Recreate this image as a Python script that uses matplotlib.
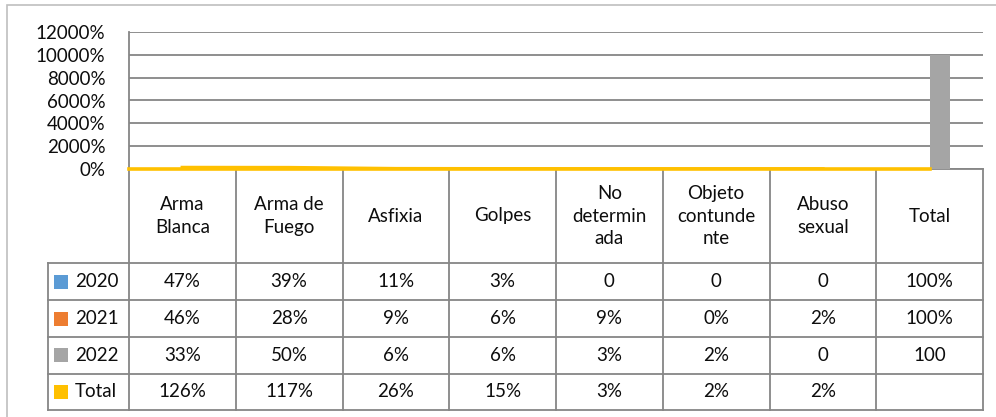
import matplotlib
matplotlib.use("Agg")
import matplotlib.pyplot as plt
from matplotlib.patches import Rectangle
from matplotlib.ticker import FuncFormatter, MultipleLocator
import numpy as np

plt.rcParams['font.family'] = ['Lato', 'DejaVu Sans']

# ---------------- data ----------------
categories = ["Arma\nBlanca", "Arma de\nFuego", "Asfixia", "Golpes",
              "No\ndetermin\nada", "Objeto\ncontunde\nnte", "Abuso\nsexual", "Total"]
series_names = ["2020", "2021", "2022", "Total"]
v2020 = [0.47, 0.39, 0.11, 0.03, 0.0, 0.0, 0.0, 1.00]
v2021 = [0.46, 0.28, 0.09, 0.06, 0.09, 0.0, 0.02, 1.00]
v2022 = [0.33, 0.50, 0.06, 0.06, 0.03, 0.02, 0.0, 100.0]
vtotal = [1.26, 1.17, 0.26, 0.15, 0.03, 0.02, 0.02, np.nan]
labels2020 = ["47%", "39%", "11%", "3%", "0", "0", "0", "100%"]
labels2021 = ["46%", "28%", "9%", "6%", "9%", "0%", "2%", "100%"]
labels2022 = ["33%", "50%", "6%", "6%", "3%", "2%", "0", "100"]
labelsTotal = ["126%", "117%", "26%", "15%", "3%", "2%", "2%", ""]
yticks = [0, 20, 40, 60, 80, 100, 120]

colors = ["#5B9BD5", "#ED7D31", "#A5A5A5", "#FFC000"]
grid_c = "#868686"
text_c = "#0d0d0d"
FS = 13.5

W, H = 996, 417
fig = plt.figure(figsize=(W / 100, H / 100), dpi=100)

def fx(px):
    return px / W

def fy(py):
    return 1 - py / H

# outer chart border
fig.add_artist(Rectangle((fx(7), -0.2), 1.2, fy(5) + 0.2, transform=fig.transFigure,
                         fill=False, edgecolor="#BFBFBF", lw=1.2, zorder=0))

plot_l, plot_r, plot_t, plot_b = 129, 983, 32, 169
tab_l, tab_b = 48, 410
cat_w = (plot_r - plot_l) / len(categories)
x = np.arange(len(categories))

# ---------------- table axes ----------------
tax = fig.add_axes([fx(tab_l), fy(tab_b), fx(plot_r) - fx(tab_l), fy(plot_b) - fy(tab_b)])
xl_left = -0.5 - (plot_l - tab_l) / cat_w
tax.set_xlim(xl_left, len(categories) - 0.5)
tax.set_ylim(tab_b, plot_b)
tax.axis("off")

row_edges = [169, 263, 300, 337, 373.5, 410]
lw_t = 1.3
for y in row_edges[1:]:
    tax.plot([xl_left, len(categories) - 0.5], [y, y], color=grid_c, lw=lw_t, clip_on=False,
             solid_capstyle="projecting")
tax.plot([-0.5, len(categories) - 0.5], [169, 169], color=grid_c, lw=lw_t, clip_on=False)
for k in range(len(categories) + 1):
    tax.plot([k - 0.5, k - 0.5], [169, 410], color=grid_c, lw=lw_t, clip_on=False)
tax.plot([xl_left, xl_left], [263, 410], color=grid_c, lw=lw_t, clip_on=False)

hdr_c = (row_edges[0] + row_edges[1]) / 2
for i, c in enumerate(categories):
    tax.text(i, hdr_c, c, ha="center", va="center", fontsize=FS, color=text_c,
             linespacing=1.4)

all_labels = [labels2020, labels2021, labels2022, labelsTotal]
key_l = -0.5 - (plot_l - 54) / cat_w
key_w = 14 / cat_w
name_x = -0.5 - (plot_l - 75) / cat_w
for r, (name, labs, col) in enumerate(zip(series_names, all_labels, colors)):
    yc = (row_edges[r + 1] + row_edges[r + 2]) / 2
    tax.add_patch(Rectangle((key_l, yc - 7), key_w, 14, facecolor=col, edgecolor="none"))
    tax.text(name_x, yc, name, ha="left", va="center", fontsize=FS, color=text_c)
    for i, lab in enumerate(labs):
        tax.text(i, yc, lab, ha="center", va="center", fontsize=FS, color=text_c)

# ---------------- chart axes ----------------
ax = fig.add_axes([fx(plot_l), fy(plot_b), fx(plot_r) - fx(plot_l), fy(plot_t) - fy(plot_b)])
ax.set_zorder(tax.get_zorder() + 1)
ax.patch.set_alpha(0)
bw = 0.1875
for j, (vals, col) in enumerate(zip([v2020, v2021, v2022], colors[:3])):
    ax.bar(x + (j - 1.5) * bw, vals, width=bw, color=col, zorder=3, align="center")
ax.plot(x, vtotal, color=colors[3], lw=2.6, zorder=4)

ax.set_xlim(-0.5, len(categories) - 0.5)
ax.set_ylim(yticks[0], yticks[-1])
ax.yaxis.set_major_locator(MultipleLocator(yticks[1] - yticks[0]))
ax.yaxis.set_major_formatter(FuncFormatter(lambda v, p: f"{v * 100:.0f}%"))
ax.set_xticks([])
ax.tick_params(axis="y", length=0, pad=17, labelsize=FS, labelcolor=text_c)
ax.grid(axis="y", color=grid_c, lw=1.3, zorder=0)
for s in ["top", "right"]:
    ax.spines[s].set_visible(False)
ax.spines["left"].set_color(grid_c)
ax.spines["left"].set_linewidth(1.3)
ax.spines["bottom"].set_color(colors[3])
ax.spines["bottom"].set_linewidth(2.6)
ax.spines["bottom"].set_bounds(-0.5, len(categories) - 1)
ax.spines["bottom"].set_zorder(5)

fig.savefig("out.png", dpi=100)
